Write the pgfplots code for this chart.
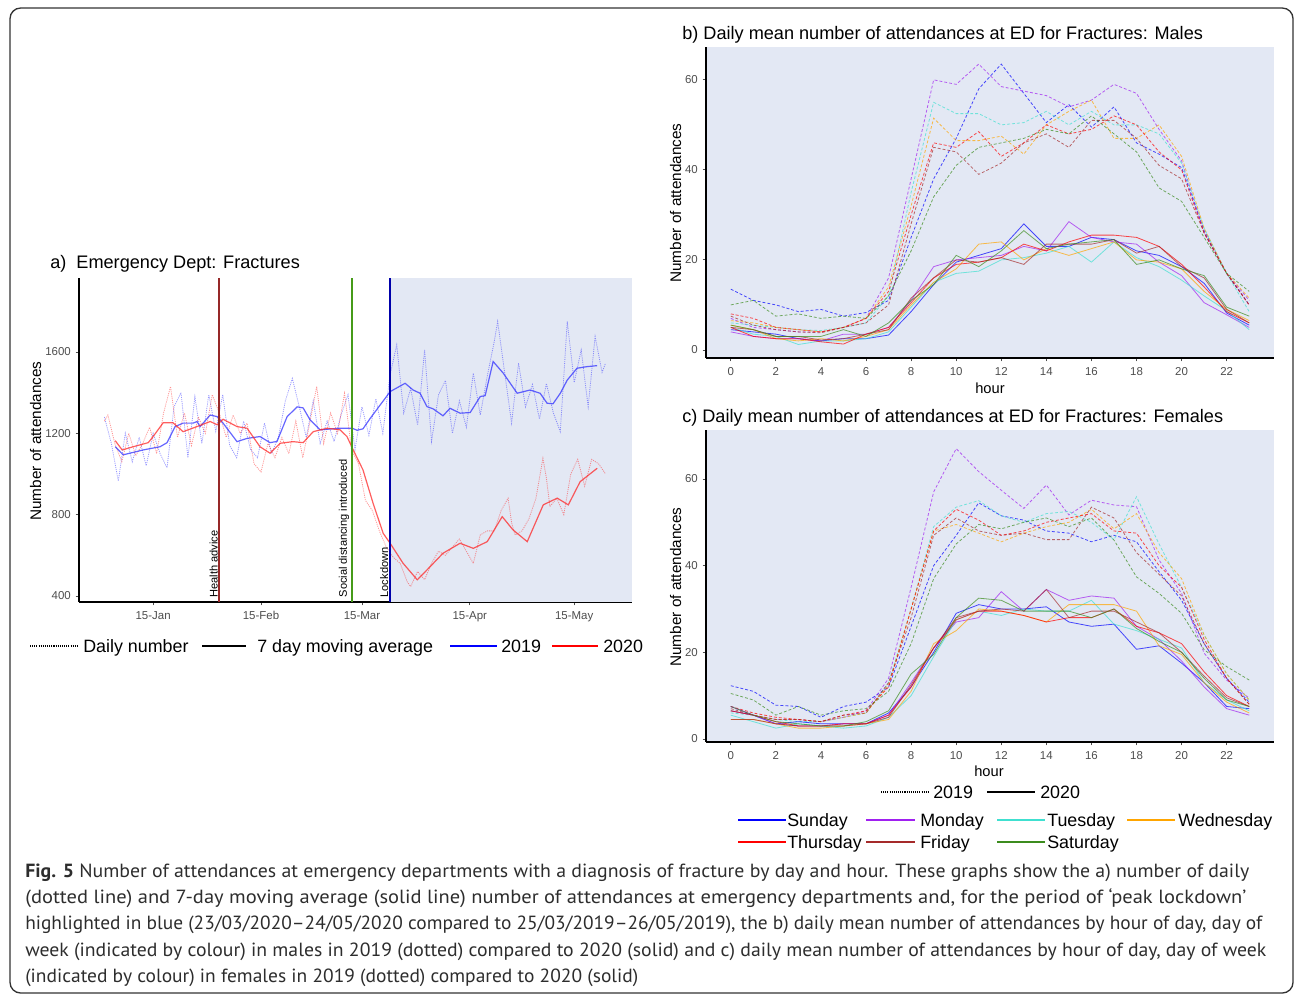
\documentclass[border=0pt]{standalone}
\usepackage{pgfplots}
\pgfplotsset{compat=1.18}
\usepackage{pgfplotstable}
\usepackage{graphicx}
\usepackage{fontspec}
\setmainfont{Liberation Sans}
\newfontfamily\capfont{PT Sans}

\definecolor{panelbg}{RGB}{227,232,244}
\definecolor{csun}{RGB}{0,0,255}
\definecolor{cmon}{RGB}{160,32,240}
\definecolor{ctue}{RGB}{64,224,208}
\definecolor{cwed}{RGB}{255,165,0}
\definecolor{cthu}{RGB}{255,0,0}
\definecolor{cfri}{RGB}{165,42,42}
\definecolor{csat}{RGB}{60,140,30}
\definecolor{tickgray}{RGB}{77,77,77}
\definecolor{cnine}{RGB}{50,50,255}
\definecolor{cten}{RGB}{255,40,40}
\definecolor{vlHealth}{RGB}{150,40,40}
\definecolor{vlSocial}{RGB}{70,155,25}
\definecolor{vlLock}{RGB}{0,0,170}
\definecolor{captxt}{RGB}{45,45,45}

% males, 2019
\pgfplotstableread{
h Su Mo Tu We Th Fr Sa
0 13.5 7 6 6.5 8 7.5 10
1 11 5 5.5 6 7 5.5 11
2 10 4.5 5 5 5 4.5 7.5
3 8.5 4 4.5 4.5 4.5 4 8
4 9 4 4.3 4 4 3.8 7
5 7.5 5 5 5 5 5 7.5
6 8.3 7 6 7 7 6 7
7 11 16 12 14 13 10 12
8 25 38 35 32 30 28 22
9 38 60 55 51.5 46 45 34
10 47 59 52.5 46.5 45 44 41
11 58 63.5 52.5 46.5 48.5 39 45
12 63.5 58.5 50 47.5 43 41.5 46
13 57 57.5 50.5 43.5 46 46 47
14 50.5 56.5 53 50 50 48 49
15 54.5 54 50 53 48 45 48
16 49.5 55.5 53 55.5 49 51 52
17 54 59 50 47 52 51 48
18 46 57 50 47 50 47 44
19 43.5 49 48 50 44 41 36
20 40.5 42 41.5 43 40 38 33
21 26.5 26 27 27 26 26 25
22 17 17 17 17 17 17 17
23 10 11 8.5 11.5 10 10 13
}\bmA
% males, 2020
\pgfplotstableread{
h Su Mo Tu We Th Fr Sa
0 4.5 4 5 5.5 5 5 5.5
1 4 3 3.5 4.5 3 4.5 4.5
2 3.5 2.5 3 2.5 2.5 3 3
3 2.5 2.5 1.2 2 2.5 3 3
4 2 2 2 2.5 1.8 2.2 3
5 2.5 3.5 2 2 1.3 2.5 4.5
6 2.5 3.5 2.5 3 3.5 3.5 3
7 3.3 5 4 4.5 5 4.5 6
8 8.5 11 9.5 10 10.5 11.5 11
9 14.5 18.5 15 15 16 16 14.5
10 19.5 20 17 18 19 20 21
11 21 20.5 17.5 23.5 19.5 19.5 18.5
12 22.5 21 20 24 20.5 20.5 22
13 28 23 20.5 20 23.5 19 26.5
14 23 22 21.5 22.5 22 23.5 22.5
15 23 28.5 23 21 24 23.5 23.5
16 25 25 19.5 22.5 25.5 23.5 24
17 24.5 24 24 24 25.5 24.5 24.5
18 22 23.5 20.5 20 25 21.5 19
19 21 19.5 18.5 19.5 23 23 20
20 18.5 16.5 15.5 18 19 18.5 18
21 14.8 10.5 12 13 14 16 16.5
22 8.2 7.8 8.7 9 8.5 9 9.5
23 5.5 5 4.5 6.5 6 6 7.5
}\bmB
% females, 2019
\pgfplotstableread{
h Su Mo Tu We Th Fr Sa
0 12.3 7.5 6 6.5 7.5 7 10.5
1 11 5.5 5.5 5.5 6 5.5 9
2 7.8 4.5 4.5 4.5 5 4.5 5.5
3 7.5 4.5 4 4.5 4.5 4.5 7.5
4 5 4 4 4 4 4 5.5
5 7.5 5 5 5 5.5 5.5 6.5
6 8.5 6.5 6 6 6.5 6 7
7 12 14 13 12.5 12 13 11
8 26 35 30 30 30 28 22
9 40 57 49 48 48 47 37
10 47 67 53.5 49.5 53 51 45
11 54.5 61.7 55 47.5 50.5 48 49.5
12 51.5 57.4 51.5 45.5 47 47 48.5
13 50.5 53.2 50 47.5 48 47.5 50
14 48 58.6 52 49 50 46 51
15 47.5 51.7 52.5 50 51 46 49
16 45.5 55.1 50 53 52 53.5 51
17 47 54 46 48.5 48 51 45.9
18 45.5 53.6 55.9 52 47.5 43 37.4
19 38.6 41.3 45 43 40 38 33.6
20 32 33.6 35 37 35 33 29
21 22 19.8 24 24 23 22 20.6
22 14 13.6 15 15 14 14 16.7
23 8.5 9.4 9 9 8 8 13.6
}\cfA
% females, 2020
\pgfplotstableread{
h Su Mo Tu We Th Fr Sa
0 6.5 7.5 5.5 4.5 6.5 4.5 7.5
1 5.5 5.5 4 4.5 5.5 4.5 5.5
2 3.5 3.5 2.5 3.5 4 3.5 4
3 4 3 3.5 2.5 3 3 3.5
4 3.5 3 3 2.5 3 3 3
5 3.5 3.5 2.5 3 3.5 3 3
6 3.5 3.5 3 3.5 3.5 3.5 4
7 6 5.5 5 4.5 5.5 5 6.5
8 12 13 10 11 12 12.5 15
9 20 21 19 22 21 21 19.5
10 29 27 27.5 25 27.5 28 28
11 31 28 29.5 30 29.5 29.5 32.5
12 30 34 28.5 29.5 29.5 30 32
13 30 29.5 30 28.5 28.5 29.5 29.5
14 30.5 34.5 29.5 27 27 34.5 29.5
15 27 32 29.5 31 28 28 29.5
16 26 33 32 31 28 29.5 28
17 26.5 32.5 26.5 31 30 29.5 30
18 20.7 26 25 29.5 26 27 25.5
19 21.5 23 23 21.5 24.5 24.5 22.5
20 17.5 18 21 19.5 22 20 20
21 13 12 13 13 15.5 14.5 14
22 7.5 7 9 8.5 10 9.5 9
23 7 5.5 6.5 6 7.5 7.5 7.5
}\cfB

\tikzset{vline/.style={line width=1.3pt}}
\pgfplotsset{
  common/.style={
    scale only axis,
    axis x line*=bottom, axis y line*=left,
    axis line style={-, line width=0.8pt, black},
    tick align=outside, major tick length=2.6pt,
    tick style={tickgray, line width=0.6pt},
    ticklabel style={font=\fontsize{8.6}{9}\selectfont, text=tickgray},
    xticklabel style={yshift=-1pt},
    /pgf/number format/assume math mode=true,
    /pgf/number format/1000 sep={},
    clip=false,
  },
  hourax/.style={common, width=426pt,
    xmin=-1.1, xmax=24.1, xtick={0,2,...,22}, ytick={0,20,40,60},
    axis background/.style={fill=panelbg}},
  y19/.style={dash pattern=on 2.2pt off 1.5pt, line width=0.6pt, opacity=0.7},
  y20/.style={solid, line width=0.6pt, opacity=0.7},
}
\newcommand{\weeklines}[2]{%
  \addplot[csun,#2] table[x=h,y=Su]{#1};
  \addplot[cmon,#2] table[x=h,y=Mo]{#1};
  \addplot[ctue,#2] table[x=h,y=Tu]{#1};
  \addplot[cwed,#2] table[x=h,y=We]{#1};
  \addplot[cthu,#2] table[x=h,y=Th]{#1};
  \addplot[cfri,#2] table[x=h,y=Fr]{#1};
  \addplot[csat,#2] table[x=h,y=Sa]{#1};
}

\begin{document}
\begin{tikzpicture}
% ---------------- a) ----------------  (pixel 79,602 -> pt)
\begin{axis}[common, at={(59.25pt,-451.5pt)}, anchor=south west,
  width=414.75pt, height=243pt,
  xmin=-6.3, xmax=152.6, ymin=370, ymax=1964,
  xtick={15,46,75,106,136}, xticklabels={15-Jan,15-Feb,15-Mar,15-Apr,15-May},
  ytick={400,800,1200,1600}]
\fill[panelbg] (axis cs:83,370) rectangle (axis cs:152.6,1964);
% 2019 daily
\addplot[cnine, dash pattern=on 0.8pt off 0.8pt, line width=0.6pt, opacity=0.5] coordinates {
(1,1280)(3,1150)(5,965)(7,1200)(9,1060)(11,1180)(13,1040)(15,1200)(17,1100)(19,1030)
(21,1330)(23,1400)(25,1080)(27,1380)(29,1150)(31,1390)(33,1210)(35,1390)(37,1140)(39,1080)
(41,1260)(43,1120)(45,1080)(47,1250)(49,1100)(51,1180)(53,1360)(55,1470)(57,1330)(59,1180)
(61,1360)(63,1150)(65,1260)(67,1160)(69,1290)(71,1390)(73,1120)(75,1330)(77,1190)(79,1370)
(81,1200)(83,1480)(85,1635)(87,1300)(89,1420)(91,1240)(93,1610)(95,1160)(97,1390)(99,1460)
(101,1200)(103,1360)(105,1230)(107,1496)(109,1290)(111,1480)(113,1650)(114,1750)(116,1500)
(118,1250)(120,1545)(122,1330)(124,1440)(126,1270)(128,1445)(130,1300)(132,1208)(134,1750)
(136,1450)(138,1610)(140,1331)(142,1676)(144,1500)(145,1545)};
% 2020 daily
\addplot[cten, dash pattern=on 0.8pt off 0.8pt, line width=0.6pt, opacity=0.5] coordinates {
(1,1260)(2,1290)(4,1150)(6,1060)(8,1200)(10,1090)(12,1150)(14,1230)(16,1100)(18,1300)
(20,1430)(22,1180)(24,1300)(26,1140)(28,1280)(30,1200)(32,1390)(34,1300)(36,1180)(38,1290)
(40,1200)(42,1250)(44,1050)(46,1010)(48,1150)(50,1080)(52,1180)(54,1100)(56,1260)(58,1080)
(60,1250)(62,1430)(64,1150)(66,1300)(68,1200)(70,1397)(72,1120)(74,1050)(76,870)(78,820)
(80,720)(82,640)(84,590)(86,560)(88,470)(89,446)(91,520)(93,480)(95,560)(97,620)
(99,600)(101,640)(103,680)(105,620)(107,560)(109,700)(111,720)(113,720)(115,820)(117,881)
(118,760)(119,700)(121,720)(123,780)(125,880)(127,1077)(128,980)(129,840)(131,880)(133,800)
(135,1000)(137,1072)(139,940)(141,1072)(143,1050)(145,1000)};
% 2019 7-day average
\addplot[cnine, line width=0.9pt, opacity=0.75] coordinates {
(4.1,1134)(6.4,1094)(12.1,1118)(17.0,1134)(19.0,1154)(21.3,1233)(23.6,1250)(26.5,1250)
(27.6,1258)(28.5,1233)(31.4,1290)(33.4,1282)(35.1,1250)(39.1,1159)(42.0,1175)(45.7,1184)
(48.6,1154)(50.6,1160)(53.5,1282)(56.4,1330)(58.1,1325)(60.1,1266)(63.0,1217)(68.7,1225)
(72.2,1225)(73.6,1215)(75.3,1222)(77.4,1274)(83.1,1405)(87.4,1446)(89.7,1413)(91.7,1397)
(93.7,1331)(95.5,1320)(98.3,1286)(100.3,1323)(103.2,1299)(106.1,1302)(109.0,1381)(110.4,1385)
(112.7,1553)(115.6,1496)(119.6,1397)(123.3,1413)(126.2,1397)(128.2,1348)(129.9,1345)(132.0,1397)
(134.0,1462)(136.8,1520)(139.7,1528)(142.6,1533)};
% 2020 7-day average
\addplot[cten, line width=0.9pt, opacity=0.75] coordinates {
(4.1,1164)(6.1,1118)(9.3,1134)(13.6,1154)(15,1184)(17.9,1252)(20.7,1252)(23.6,1208)
(27.6,1233)(31.4,1258)(33.4,1242)(35.1,1269)(39.1,1233)(42.0,1225)(45.7,1134)(48.6,1102)
(51.5,1151)(55.2,1159)(58.1,1154)(61.0,1208)(65.0,1225)(68.7,1217)(70.7,1184)(72.5,1118)
(75.3,1020)(78.2,856)(81.1,708)(83.1,659)(86.8,561)(90.9,479)(94.6,544)(98.3,610)
(103.2,659)(107.0,634)(111.0,667)(115.3,790)(118.4,725)(122.5,667)(127.1,848)(131.1,881)
(134.3,848)(137.7,962)(142.6,1028)};
\node[rotate=90, anchor=south west, inner sep=1pt, font=\fontsize{8.3}{9}\selectfont] at (axis cs:34,385) {Health advice};
\node[rotate=90, anchor=south west, inner sep=1pt, font=\fontsize{8.3}{9}\selectfont] at (axis cs:71.8,385) {Social distancing introduced};
\node[rotate=90, anchor=south west, inner sep=1pt, font=\fontsize{8.3}{9}\selectfont] at (axis cs:83,385) {Lockdown};
\draw[vline, draw=vlHealth] (axis cs:34,370) -- (axis cs:34,1964);
\draw[vline, draw=vlSocial] (axis cs:72.2,370) -- (axis cs:72.2,1964);
\draw[vline, draw=vlLock] (axis cs:83,370) -- (axis cs:83,1964);
\end{axis}

% ---------------- b) ----------------  (pixel 706,358)
\begin{axis}[hourax, at={(529.5pt,-268.5pt)}, anchor=south west, height=233.25pt,
  ymin=-1.8, ymax=67.3]
\weeklines{\bmA}{y19}
\weeklines{\bmB}{y20}
\end{axis}

% ---------------- c) ----------------  (pixel 706,742)
\begin{axis}[hourax, at={(529.5pt,-556.5pt)}, anchor=south west, height=234pt,
  ymin=-0.7, ymax=71.3]
\weeklines{\cfA}{y19}
\weeklines{\cfB}{y20}
\end{axis}

% ---------- texts, frame and legends in pixel units ----------
\begin{scope}[x=0.75pt,y=-0.75pt]
\useasboundingbox (0,0) rectangle (1295,996);
\draw[rounded corners=8pt, line width=1pt, black!80] (10,8) rectangle (1293,993);

\node[anchor=base west, inner sep=0, font=\fontsize{13.6}{15}\selectfont] at (50,268.5) {a)\ \ Emergency Dept: Fractures};
\node[rotate=90, anchor=base, inner sep=0, font=\fontsize{11.5}{13}\selectfont] at (41,441) {Number of attendances};

\begin{scope}[every node/.style={anchor=base west, inner sep=0, font=\fontsize{13.4}{15}\selectfont}]
\draw[black, line width=0.9pt, dash pattern=on 0.8pt off 0.8pt] (30,646) -- (79,646);
\node at (83,652) {Daily number};
\draw[black, line width=1.3pt] (202,646) -- (246,646);
\node at (257,652) {7 day moving average};
\draw[csun, line width=1.3pt] (450,646) -- (497,646);
\node at (501,652) {2019};
\draw[cthu, line width=1.3pt] (552,646) -- (598,646);
\node at (603,652) {2020};
\end{scope}

\node[anchor=base west, inner sep=0, font=\fontsize{13.6}{15}\selectfont] at (682,39.5) {b)\ Daily mean number of attendances at ED for Fractures: Males};
\node[rotate=90, anchor=base, inner sep=0, font=\fontsize{11.5}{13}\selectfont] at (681,203) {Number of attendances};
\node[anchor=base, inner sep=0, font=\fontsize{11}{13}\selectfont] at (990,393) {hour};

\node[anchor=base west, inner sep=0, font=\fontsize{13.6}{15}\selectfont] at (682,422.5) {c)\ Daily mean number of attendances at ED for Fractures: Females};
\node[rotate=90, anchor=base, inner sep=0, font=\fontsize{11.5}{13}\selectfont] at (681,587) {Number of attendances};
\node[anchor=base, inner sep=0, font=\fontsize{11}{13}\selectfont] at (989,776) {hour};

\begin{scope}[every node/.style={anchor=base west, inner sep=0, font=\fontsize{13.4}{15}\selectfont}]
\draw[black, line width=0.9pt, dash pattern=on 0.8pt off 0.8pt] (881,792) -- (929,792);
\node at (933,798) {2019};
\draw[black, line width=1.3pt] (987,792) -- (1035,792);
\node at (1040,798) {2020};
\foreach \c/\xa/\xb/\yy in {csun/738/786/820, cmon/866/915/820, ctue/997/1045/820, cwed/1127/1175/820, cthu/738/786/842, cfri/866/915/842, csat/997/1045/842}{
  \draw[\c, line width=1.3pt] (\xa,\yy) -- (\xb,\yy);
}
\foreach \xt/\yy/\lab in {787/826/Sunday, 920/826/Monday, 1047/826/Tuesday, 1178/826/Wednesday, 787/848/Thursday, 920/848/Friday, 1047/848/Saturday}{
  \node at (\xt,\yy) {\lab};
}
\end{scope}

\begin{scope}[every node/.style={anchor=base west, inner sep=0, text=captxt, font=\capfont\fontsize{14.3}{16}\selectfont}]
\node at (25,877) {\resizebox{918pt}{\height}{\textbf{Fig. 5} Number of attendances at emergency departments with a diagnosis of fracture by day and hour. These graphs show the a) number of daily}};
\node at (25,903) {\resizebox{915.75pt}{\height}{(dotted line) and 7-day moving average (solid line) number of attendances at emergency departments and, for the period of ‘peak lockdown’}};
\node at (25,929) {\resizebox{927.75pt}{\height}{highlighted in blue (23/03/2020–24/05/2020 compared to 25/03/2019–26/05/2019), the b) daily mean number of attendances by hour of day, day of}};
\node at (25,956) {\resizebox{930.75pt}{\height}{week (indicated by colour) in males in 2019 (dotted) compared to 2020 (solid) and c) daily mean number of attendances by hour of day, day of week}};
\node at (25,982) {\resizebox{459.75pt}{\height}{(indicated by colour) in females in 2019 (dotted) compared to 2020 (solid)}};
\end{scope}
\end{scope}
\end{tikzpicture}
\end{document}
